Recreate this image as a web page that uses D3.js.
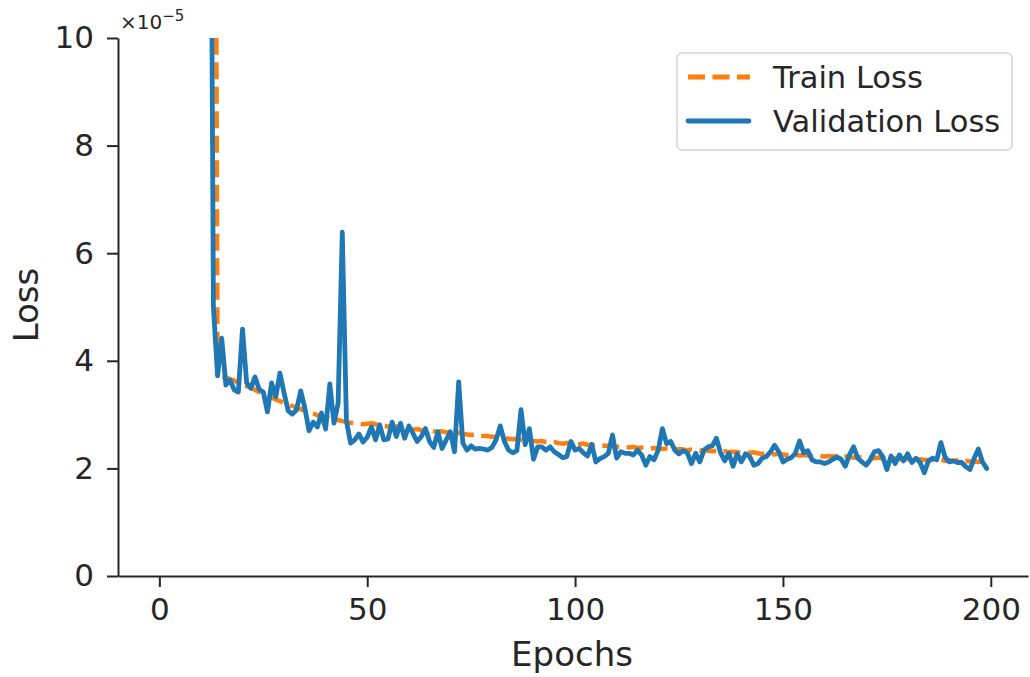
<!DOCTYPE html>
<html>
<head>
<meta charset="utf-8">
<script src="https://cdn.jsdelivr.net/npm/d3@7"></script>
<style>
    body { margin: 0; background: #ffffff; }
    text { font-family: 'DejaVu Sans', sans-serif; fill: #262626; }
</style>
</head>
<body>
<div id="chart"></div>
<script>
(function () {
    'use strict';

    // losses in units of 1e-5, one value per epoch (0..199)
    var trainLoss = [
        1480, 790, 415, 262, 178, 129, 97, 75, 59, 47, 39, 33, 29, 26,
        3.72, 3.71, 3.69, 3.66, 3.63, 3.60, 3.57,
        3.53, 3.50, 3.46, 3.42, 3.39, 3.36, 3.32, 3.28, 3.25, 3.22,
        3.19, 3.16, 3.13, 3.10, 3.07, 3.04, 3.02, 2.99, 2.97, 2.95,
        2.93, 2.91, 2.90, 2.88, 2.86, 2.85, 2.84, 2.83, 2.82, 2.83,
        2.84, 2.82, 2.80, 2.79, 2.78, 2.77, 2.78, 2.76, 2.74, 2.73,
        2.72, 2.73, 2.71, 2.70, 2.71, 2.69, 2.68, 2.69, 2.67, 2.66,
        2.65, 2.66, 2.64, 2.63, 2.62, 2.63, 2.61, 2.60, 2.60, 2.59,
        2.58, 2.57, 2.56, 2.55, 2.54, 2.55, 2.53, 2.52, 2.52, 2.51,
        2.50, 2.51, 2.49, 2.48, 2.49, 2.47, 2.46, 2.47, 2.46, 2.45,
        2.45, 2.46, 2.44, 2.43, 2.44, 2.43, 2.42, 2.42, 2.41, 2.40,
        2.41, 2.40, 2.39, 2.40, 2.38, 2.39, 2.38, 2.37, 2.38, 2.37,
        2.36, 2.37, 2.36, 2.35, 2.36, 2.35, 2.34, 2.35, 2.34, 2.33,
        2.34, 2.33, 2.32, 2.33, 2.31, 2.32, 2.30, 2.31, 2.30, 2.29,
        2.30, 2.29, 2.30, 2.28, 2.27, 2.28, 2.27, 2.26, 2.27, 2.26,
        2.25, 2.26, 2.25, 2.24, 2.25, 2.24, 2.23, 2.24, 2.23, 2.22,
        2.23, 2.22, 2.23, 2.21, 2.22, 2.21, 2.20, 2.21, 2.20, 2.19,
        2.20, 2.19, 2.20, 2.18, 2.19, 2.18, 2.19, 2.17, 2.18, 2.17,
        2.18, 2.16, 2.17, 2.16, 2.15, 2.16, 2.15, 2.16, 2.14, 2.15,
        2.14, 2.15, 2.13, 2.14, 2.13, 2.12, 2.13, 2.12, 2.11
    ];

    var validationLoss = [
        960, 405, 212, 128, 86, 63, 49, 40, 33.5, 28.5, 24.5, 21.5, 19.5,
        5.0,
        3.72, 4.42, 3.55, 3.64, 3.46, 3.42, 4.59,
        3.59, 3.49, 3.70, 3.47, 3.42, 3.05, 3.59, 3.33, 3.77, 3.40,
        3.07, 3.01, 3.09, 3.44, 3.12, 2.70, 2.86, 2.77, 3.03, 2.73,
        3.57, 2.84, 3.21, 6.39, 2.88, 2.47, 2.53, 2.64, 2.49, 2.58,
        2.77, 2.53, 2.81, 2.53, 2.55, 2.86, 2.59, 2.84, 2.56, 2.79,
        2.65, 2.50, 2.59, 2.74, 2.50, 2.39, 2.68, 2.37, 2.53, 2.68,
        2.31, 3.61, 2.47, 2.34, 2.42, 2.36, 2.37, 2.36, 2.34, 2.39,
        2.53, 2.79, 2.50, 2.34, 2.29, 2.33, 3.09, 2.44, 2.74, 2.17,
        2.40, 2.40, 2.34, 2.40, 2.31, 2.26, 2.20, 2.22, 2.50, 2.34,
        2.37, 2.29, 2.23, 2.45, 2.12, 2.18, 2.22, 2.28, 2.62, 2.19,
        2.31, 2.28, 2.28, 2.25, 2.34, 2.25, 2.06, 2.22, 2.16, 2.34,
        2.74, 2.46, 2.50, 2.34, 2.27, 2.33, 2.29, 2.09, 2.28, 2.12,
        2.34, 2.40, 2.42, 2.56, 2.29, 2.14, 2.28, 2.04, 2.27, 2.12,
        2.27, 2.22, 2.06, 2.09, 2.19, 2.22, 2.31, 2.43, 2.31, 2.12,
        2.17, 2.20, 2.28, 2.51, 2.29, 2.33, 2.16, 2.12, 2.12, 2.09,
        2.12, 2.17, 2.21, 2.17, 2.04, 2.25, 2.40, 2.19, 2.12, 2.06,
        2.16, 2.31, 2.33, 2.22, 1.98, 2.23, 2.09, 2.25, 2.14, 2.27,
        2.11, 2.19, 2.11, 1.92, 2.14, 2.19, 2.16, 2.48, 2.21, 2.12,
        2.14, 2.11, 2.11, 2.03, 1.98, 2.19, 2.36, 2.12, 2.00
    ];

    var xTicks = [0, 50, 100, 150, 200];
    var yTicks = [0, 2, 4, 6, 8, 10];
    var legendLabels = ['Train Loss', 'Validation Loss'];

    var width = 1030;
    var height = 677;
    var plotLeft = 118;
    var plotRight = 1028;
    var plotTop = 38;
    var plotBottom = 576;
    var inkColor = '#262626';
    var trainColor = '#ff7f0e';
    var validColor = '#1f77b4';
    var tickFont = 31;
    var labelFont = 34;

    var svg = d3.select('#chart').append('svg')
        .attr('width', width)
        .attr('height', height);

    var x = d3.scaleLinear()
        .domain([-9.95, 208.95])
        .range([plotLeft, plotRight]);

    var y = d3.scaleLinear()
        .domain([0, 10])
        .range([plotBottom, plotTop]);

    svg.append('clipPath')
        .attr('id', 'plot-clip')
        .append('rect')
        .attr('x', plotLeft)
        .attr('y', plotTop)
        .attr('width', plotRight - plotLeft)
        .attr('height', plotBottom - plotTop);

    var line = d3.line()
        .x(function (d, i) { return x(i); })
        .y(function (d) { return y(d); });

    var lines = svg.append('g').attr('clip-path', 'url(#plot-clip)');

    lines.append('path')
        .datum(trainLoss)
        .attr('d', line)
        .attr('fill', 'none')
        .attr('stroke', trainColor)
        .attr('stroke-width', 4.5)
        .attr('stroke-dasharray', '17,7.5');

    lines.append('path')
        .datum(validationLoss)
        .attr('d', line)
        .attr('fill', 'none')
        .attr('stroke', validColor)
        .attr('stroke-width', 4.8)
        .attr('stroke-linejoin', 'round')
        .attr('stroke-linecap', 'round');

    // axes
    var xAxis = d3.axisBottom(x)
        .tickValues(xTicks)
        .tickSize(11)
        .tickPadding(11)
        .tickSizeOuter(0);

    var yAxis = d3.axisLeft(y)
        .tickValues(yTicks)
        .tickSize(11)
        .tickPadding(13)
        .tickSizeOuter(0);

    var gx = svg.append('g')
        .attr('transform', 'translate(0,' + plotBottom + ')')
        .call(xAxis);

    var gy = svg.append('g')
        .attr('transform', 'translate(' + plotLeft + ',0)')
        .call(yAxis);

    [gx, gy].forEach(function (g) {
        g.select('.domain').attr('stroke', inkColor).attr('stroke-width', 2);
        g.selectAll('.tick line').attr('stroke', inkColor).attr('stroke-width', 2);
        g.selectAll('.tick text')
            .attr('fill', inkColor)
            .style('font-size', tickFont + 'px')
            .style('font-family', 'DejaVu Sans');
    });

    // offset text
    var offset = svg.append('text')
        .attr('x', 120)
        .attr('y', 29)
        .style('font-size', '20px');
    offset.append('tspan').text('×10');
    offset.append('tspan')
        .attr('dy', -8)
        .style('font-size', '15px')
        .text('−5');

    svg.append('text')
        .attr('x', (plotLeft + plotRight) / 2 - 1)
        .attr('y', 666)
        .attr('text-anchor', 'middle')
        .style('font-size', labelFont + 'px')
        .text('Epochs');

    svg.append('text')
        .attr('transform', 'translate(38,' + ((plotTop + plotBottom) / 2 - 2) + ') rotate(-90)')
        .attr('text-anchor', 'middle')
        .style('font-size', labelFont + 'px')
        .text('Loss');

    // legend
    var legend = svg.append('g').attr('transform', 'translate(677,53)');

    legend.append('rect')
        .attr('width', 335)
        .attr('height', 97)
        .attr('rx', 5)
        .attr('fill', '#ffffff')
        .attr('fill-opacity', 0.8)
        .attr('stroke', '#d6d6d6')
        .attr('stroke-width', 1.5);

    var legendColors = [trainColor, validColor];
    var legendDash = ['17,7.5', null];

    legendLabels.forEach(function (label, i) {
        var cy = 24 + i * 44;
        legend.append('line')
            .attr('x1', 11)
            .attr('x2', i === 0 ? 73 : 72)
            .attr('y1', cy)
            .attr('y2', cy)
            .attr('stroke', legendColors[i])
            .attr('stroke-width', 4.8)
            .attr('stroke-linecap', i === 0 ? 'butt' : 'round')
            .attr('stroke-dasharray', legendDash[i]);
        legend.append('text')
            .attr('x', 96)
            .attr('y', cy)
            .attr('dy', '0.35em')
            .style('font-size', '30.5px')
            .text(label);
    });
})();
</script>
</body>
</html>
